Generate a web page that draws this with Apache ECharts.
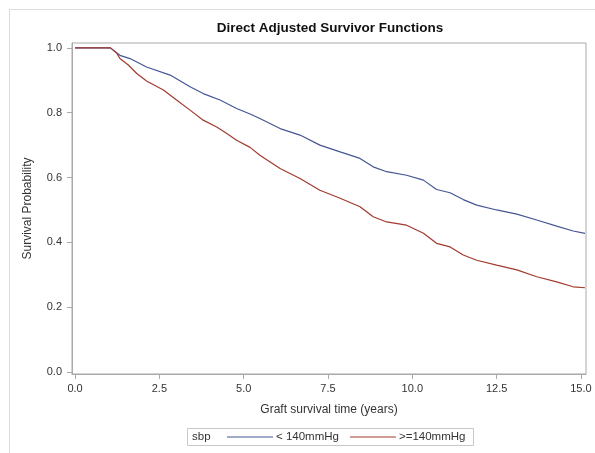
<!DOCTYPE html>
<html>
<head>
<meta charset="utf-8">
<script src="https://cdn.jsdelivr.net/npm/echarts@6/dist/echarts.min.js"></script>
<style>
	html, body { margin: 0; padding: 0; background: #fff; }
	#chart { width: 595px; height: 453px; }
</style>
</head>
<body>
<div id="chart"></div>
<script>
/*数据: 生存曲线点*/
var lowTime = [0, 1.05, 1.33, 1.63, 2.12, 2.82, 3.41, 3.80, 4.30, 4.79, 5.19, 5.48, 6.08, 6.67, 7.26, 7.86, 8.45, 8.84, 9.24, 9.83, 10.33, 10.72, 11.12, 11.51, 11.91, 12.50, 13.10, 13.69, 14.28, 14.77, 15.12];
var lowSurv = [1, 1, 0.977, 0.967, 0.941, 0.916, 0.880, 0.859, 0.839, 0.813, 0.796, 0.782, 0.751, 0.731, 0.700, 0.679, 0.659, 0.633, 0.618, 0.607, 0.592, 0.563, 0.553, 0.532, 0.515, 0.500, 0.487, 0.469, 0.450, 0.435, 0.428];

var highTime = [0, 1.05, 1.24, 1.33, 1.58, 1.83, 2.12, 2.62, 3.01, 3.41, 3.80, 4.20, 4.50, 4.79, 5.19, 5.48, 6.08, 6.67, 7.26, 7.86, 8.45, 8.84, 9.24, 9.83, 10.33, 10.72, 11.12, 11.51, 11.91, 12.50, 13.10, 13.69, 14.28, 14.77, 15.12];
var highSurv = [1, 1, 0.983, 0.967, 0.947, 0.921, 0.898, 0.870, 0.839, 0.808, 0.777, 0.756, 0.736, 0.715, 0.693, 0.669, 0.628, 0.597, 0.561, 0.536, 0.510, 0.479, 0.463, 0.453, 0.428, 0.397, 0.386, 0.361, 0.345, 0.330, 0.315, 0.294, 0.278, 0.263, 0.260];

var xTicks = [0, 2.5, 5, 7.5, 10, 12.5, 15];
var yTicks = [0, 0.2, 0.4, 0.6, 0.8, 1.0];
var groupNames = ['< 140mmHg', '>=140mmHg'];

function pairs(xs, ys){
	var out = [];
	for (var i = 0; i < xs.length; i++) {
		out.push([xs[i], ys[i]]);
	}
	return out;
}

var font = '"Liberation Sans", Arial, sans-serif';
var frameColor = '#a9a9a9';
var lowColor = '#445694';
var highColor = '#a23a2e';

var chart = echarts.init(document.getElementById('chart'));
var option = {
	backgroundColor : '#fff',
	animation : false,
	title : {
		text : 'Direct Adjusted Survivor Functions',
		left : 330,
		textAlign : 'center',
		top : 21,
		padding : 0,
		textStyle : {
			fontFamily : font,
			fontSize : 13.5,
			fontWeight : 'bold',
			color : '#111'
		}
	},
	legend : {
		left : 227,
		top : 431,
		padding : 0,
		icon : 'rect',
		itemWidth : 46,
		itemHeight : 1,
		itemGap : 11,
		textStyle : {
			fontFamily : font,
			fontSize : 11.5,
			color : '#333',
			padding : [0, 0, 0, -2]
		},
		data : groupNames
	},
	graphic : [ {
		type : 'rect',
		silent : true,
		shape : { x : 9.5, y : 9.5, width : 600, height : 460 },
		style : { fill : 'none', stroke : '#dcdcdc', lineWidth : 1 }
	}, {
		type : 'rect',
		silent : true,
		shape : { x : 187.5, y : 428.5, width : 286, height : 17 },
		style : { fill : 'none', stroke : '#c8c8c8', lineWidth : 1 }
	}, {
		type : 'text',
		silent : true,
		left : 192,
		top : 431,
		style : {
			text : 'sbp',
			font : '11.5px ' + font,
			fill : '#333'
		}
	} ],
	grid : {
		left : 72,
		top : 43,
		right : 9,
		bottom : 79,
		show : true,
		borderColor : frameColor,
		borderWidth : 1
	},
	xAxis : {
		type : 'value',
		min : -0.09,
		max : 15.15,
		name : 'Graft survival time (years)',
		nameLocation : 'middle',
		nameGap : 30,
		nameTextStyle : {
			fontFamily : font,
			fontSize : 12,
			color : '#333'
		},
		axisLine : { show : true, onZero : false, lineStyle : { color : frameColor } },
		axisTick : {
			show : true,
			length : 5,
			customValues : xTicks,
			lineStyle : { color : frameColor }
		},
		axisLabel : {
			customValues : xTicks,
			margin : 9,
			fontFamily : font,
			fontSize : 11,
			color : '#333',
			formatter : function(v){ return v.toFixed(1); }
		},
		splitLine : { show : false }
	},
	yAxis : {
		type : 'value',
		min : -0.006,
		max : 1.015,
		name : 'Survival Probability',
		nameLocation : 'middle',
		nameGap : 38,
		nameTextStyle : {
			fontFamily : font,
			fontSize : 12,
			color : '#333'
		},
		axisLine : { show : true, onZero : false, lineStyle : { color : frameColor } },
		axisTick : {
			show : true,
			length : 5,
			customValues : yTicks,
			lineStyle : { color : frameColor }
		},
		axisLabel : {
			customValues : yTicks,
			margin : 10,
			fontFamily : font,
			fontSize : 11,
			color : '#333',
			formatter : function(v){ return v.toFixed(1); }
		},
		splitLine : { show : false }
	},
	series : [ {
		name : groupNames[0],
		type : 'line',
		showSymbol : false,
		itemStyle : { color : lowColor },
		lineStyle : { width : 1.2, color : lowColor },
		data : pairs(lowTime, lowSurv)
	}, {
		name : groupNames[1],
		type : 'line',
		showSymbol : false,
		itemStyle : { color : highColor },
		lineStyle : { width : 1.2, color : highColor },
		data : pairs(highTime, highSurv)
	} ]
};
chart.setOption(option);
</script>
</body>
</html>
